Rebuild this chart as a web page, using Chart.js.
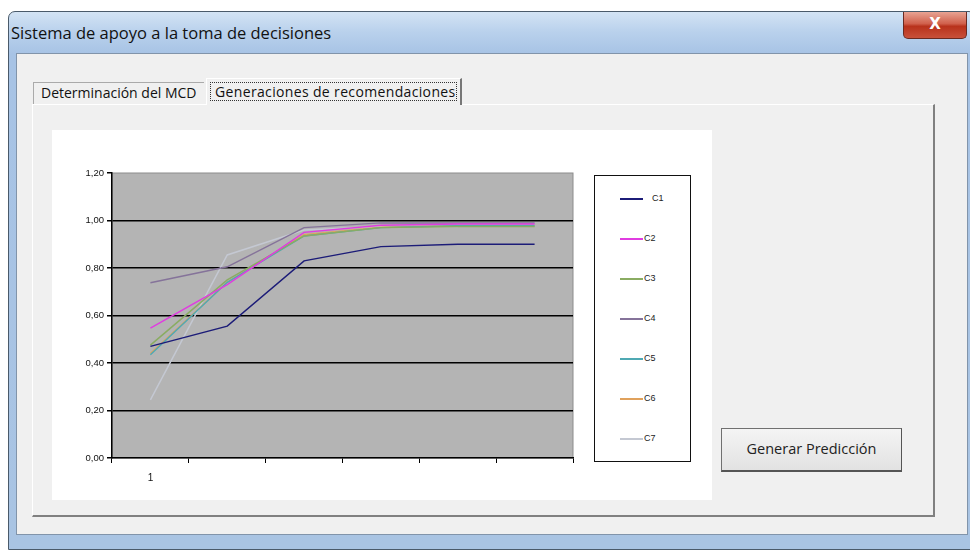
<!DOCTYPE html>
<html>
<head>
<meta charset="utf-8">
<script src="https://cdn.jsdelivr.net/npm/chart.js"></script>
<style>
  body { margin:0; width:970px; height:550px; background:#fff; overflow:hidden; position:relative; font-family:"Open Sans","Noto Sans",sans-serif; }
  .win { position:absolute; left:8px; top:11px; width:966px; height:537px; border:1px solid #4a5a6a; border-radius:7px 7px 0 0;
         background:linear-gradient(180deg,#d3e3f4 0px,#b9d1ec 20px,#a7c3e5 42px,#a9c4e3 100%); }
  .title { position:absolute; left:2px; top:9px; font-size:16.5px; color:#111; }
  .close { position:absolute; left:894px; top:0px; width:62px; height:26px; border:1px solid #6a2a22; border-top:none; border-radius:0 0 5px 5px;
           background:linear-gradient(180deg,#e8a393 0%,#d0604c 45%,#b8321c 55%,#c8503a 100%); color:#fff; font:bold 15px "DejaVu Sans",sans-serif; text-align:center; line-height:24px; }
  .client { position:absolute; left:7px; top:41px; width:950px; height:480px; background:#f0f0f0; border:1px solid #8194aa; }
  .tab { position:absolute; font-size:14px; color:#111; background:#f0f0f0; }
  .tab1 { left:16px; top:28px; width:171px; height:22px; border:1px solid #aaa; border-bottom:none; border-right:none; line-height:20px; padding-left:7px; box-sizing:border-box; }
  .tab2 { left:189px; top:24px; width:256px; height:27px; border-left:1px solid #fff; border-top:1px solid #fff; border-right:2px solid #777; box-sizing:border-box; z-index:2; }
  .tab2 span { position:absolute; left:3px; top:3px; right:3px; bottom:4px; border:1px dotted #333; line-height:17px; padding-left:4px; letter-spacing:0.35px; }
  .panel { position:absolute; left:15px; top:50px; width:903px; height:413px; border-top:1px solid #fff; border-left:1px solid #fff; border-right:2px solid #808080; border-bottom:2px solid #808080; box-sizing:border-box; }
  .white { position:absolute; left:35px; top:76px; width:660px; height:370px; background:#fff; }
  #wrap { position:absolute; left:35px; top:76px; width:540px; height:370px; }
  .legend { position:absolute; left:577px; top:121px; width:97px; height:287px; border:1px solid #111; background:#fff; box-sizing:border-box; font-family:"Liberation Sans",Arial,sans-serif; font-size:9px; color:#222; }
  .legend .it { position:absolute; left:25px; height:10px; }
  .legend .ln { position:absolute; left:0; top:5px; width:23px; height:1.5px; }
  .legend .tx { position:absolute; left:24px; top:0; line-height:11px; }
  .btn { position:absolute; left:704px; top:374px; width:181px; height:44px; border:1px solid #707070; border-right-color:#555; border-bottom:2px solid #555; box-sizing:border-box;
         background:linear-gradient(180deg,#f4f4f4,#e2e2e2); font-size:14.5px; color:#222; text-align:center; line-height:40px; }
</style>
</head>
<body>
<div class="win">
  <div class="title">Sistema de apoyo a la toma de decisiones</div>
  <div class="close">X</div>
  <div class="client">
    <div class="tab tab1">Determinación del MCD</div>
    <div class="tab tab2"><span>Generaciones de recomendaciones</span></div>
    <div class="panel"></div>
    <div class="white"></div>
    <div id="wrap"><canvas id="myChart"></canvas></div>
    <div class="legend" id="legend"></div>
    <div class="btn">Generar Predicción</div>
  </div>
</div>
<script>
// datos
var categorias = ["1", "", "", "", "", ""];
var nombres = ["C1", "C2", "C3", "C4", "C5", "C6", "C7"];
var colores = ["#1c1c78", "#e03ce0", "#8aac62", "#85739a", "#4fa9b3", "#e0a15c", "#c4c8d2"];
var c1 = [0.47, 0.555, 0.83, 0.89, 0.90, 0.90];
var c2 = [0.547, 0.73, 0.95, 0.98, 0.985, 0.985];
var c3 = [0.475, 0.75, 0.935, 0.97, 0.975, 0.975];
var c4 = [0.738, 0.805, 0.97, 0.99, 0.99, 0.99];
var c5 = [0.435, 0.74, 0.935, 0.97, 0.978, 0.978];
var c6 = [0.44, 0.74, 0.94, 0.972, 0.978, 0.978];
var c7 = [0.245, 0.855, 0.96, 0.975, 0.975, null];
var ticksY = [0, 0.2, 0.4, 0.6, 0.8, 1.0, 1.2];

var series = [c1, c2, c3, c4, c5, c6, c7];
var datasets = series.map(function (s, i) {
  return { label: nombres[i], data: s, borderColor: colores[i], borderWidth: 1.5, pointRadius: 0, fill: false, tension: 0 };
});

// fondo gris del area de trazado
var fondo = {
  id: "fondo",
  beforeDraw: function (chart) {
    var a = chart.chartArea, ctx = chart.ctx;
    ctx.save();
    ctx.fillStyle = "#b4b4b4";
    ctx.fillRect(a.left, a.top, a.right - a.left, a.bottom - a.top);
    ctx.strokeStyle = "#8c8c8c";
    ctx.lineWidth = 1;
    ctx.strokeRect(a.left, a.top, a.right - a.left, a.bottom - a.top);
    ctx.restore();
  }
};

Chart.defaults.font.family = "'Liberation Sans', Arial, sans-serif";
Chart.defaults.font.size = 9.5;
Chart.defaults.color = "#111";

var totalChart = new Chart("myChart", {
  type: "line",
  data: { labels: categorias, datasets: datasets },
  options: {
    responsive: true,
    maintainAspectRatio: false,
    animation: false,
    layout: { padding: { left: 0, top: 43, right: 19, bottom: 12 } },
    plugins: { legend: { display: false }, tooltip: { enabled: false } },
    scales: {
      x: {
        offset: true,
        grid: { offset: true, drawOnChartArea: false, drawTicks: true, tickLength: 5, tickColor: "#000" },
        border: { color: "#000", width: 1.5 },
        ticks: { maxRotation: 0, autoSkip: false, padding: 9, font: { size: 10 } },
        afterFit: function (s) { s.height = 30; }
      },
      y: {
        min: 0, max: 1.2,
        afterBuildTicks: function (s) { s.ticks = ticksY.map(function (v) { return { value: v }; }); },
        grid: {
          color: function (c) { return (c.tick && c.tick.value > 0 && c.tick.value < 1.2) ? "#000" : "rgba(0,0,0,0)"; },
          lineWidth: 1.5, tickLength: 5, tickColor: "#000"
        },
        border: { color: "#000", width: 1.5 },
        ticks: { padding: 3, callback: function (v) { return v.toFixed(2).replace(".", ","); } },
        afterFit: function (s) { s.width = 60; }
      }
    }
  },
  plugins: [fondo]
});

// leyenda
var leg = document.getElementById("legend");
datasets.forEach(function (d, i) {
  var it = document.createElement("div");
  it.className = "it";
  it.style.top = (17 + i * 40) + "px";
  it.innerHTML = '<div class="ln" style="background:' + d.borderColor + '"></div><div class="tx"' + (i === 0 ? ' style="left:32px"' : '') + '>' + d.label + '</div>';
  leg.appendChild(it);
});
</script>
</body>
</html>
